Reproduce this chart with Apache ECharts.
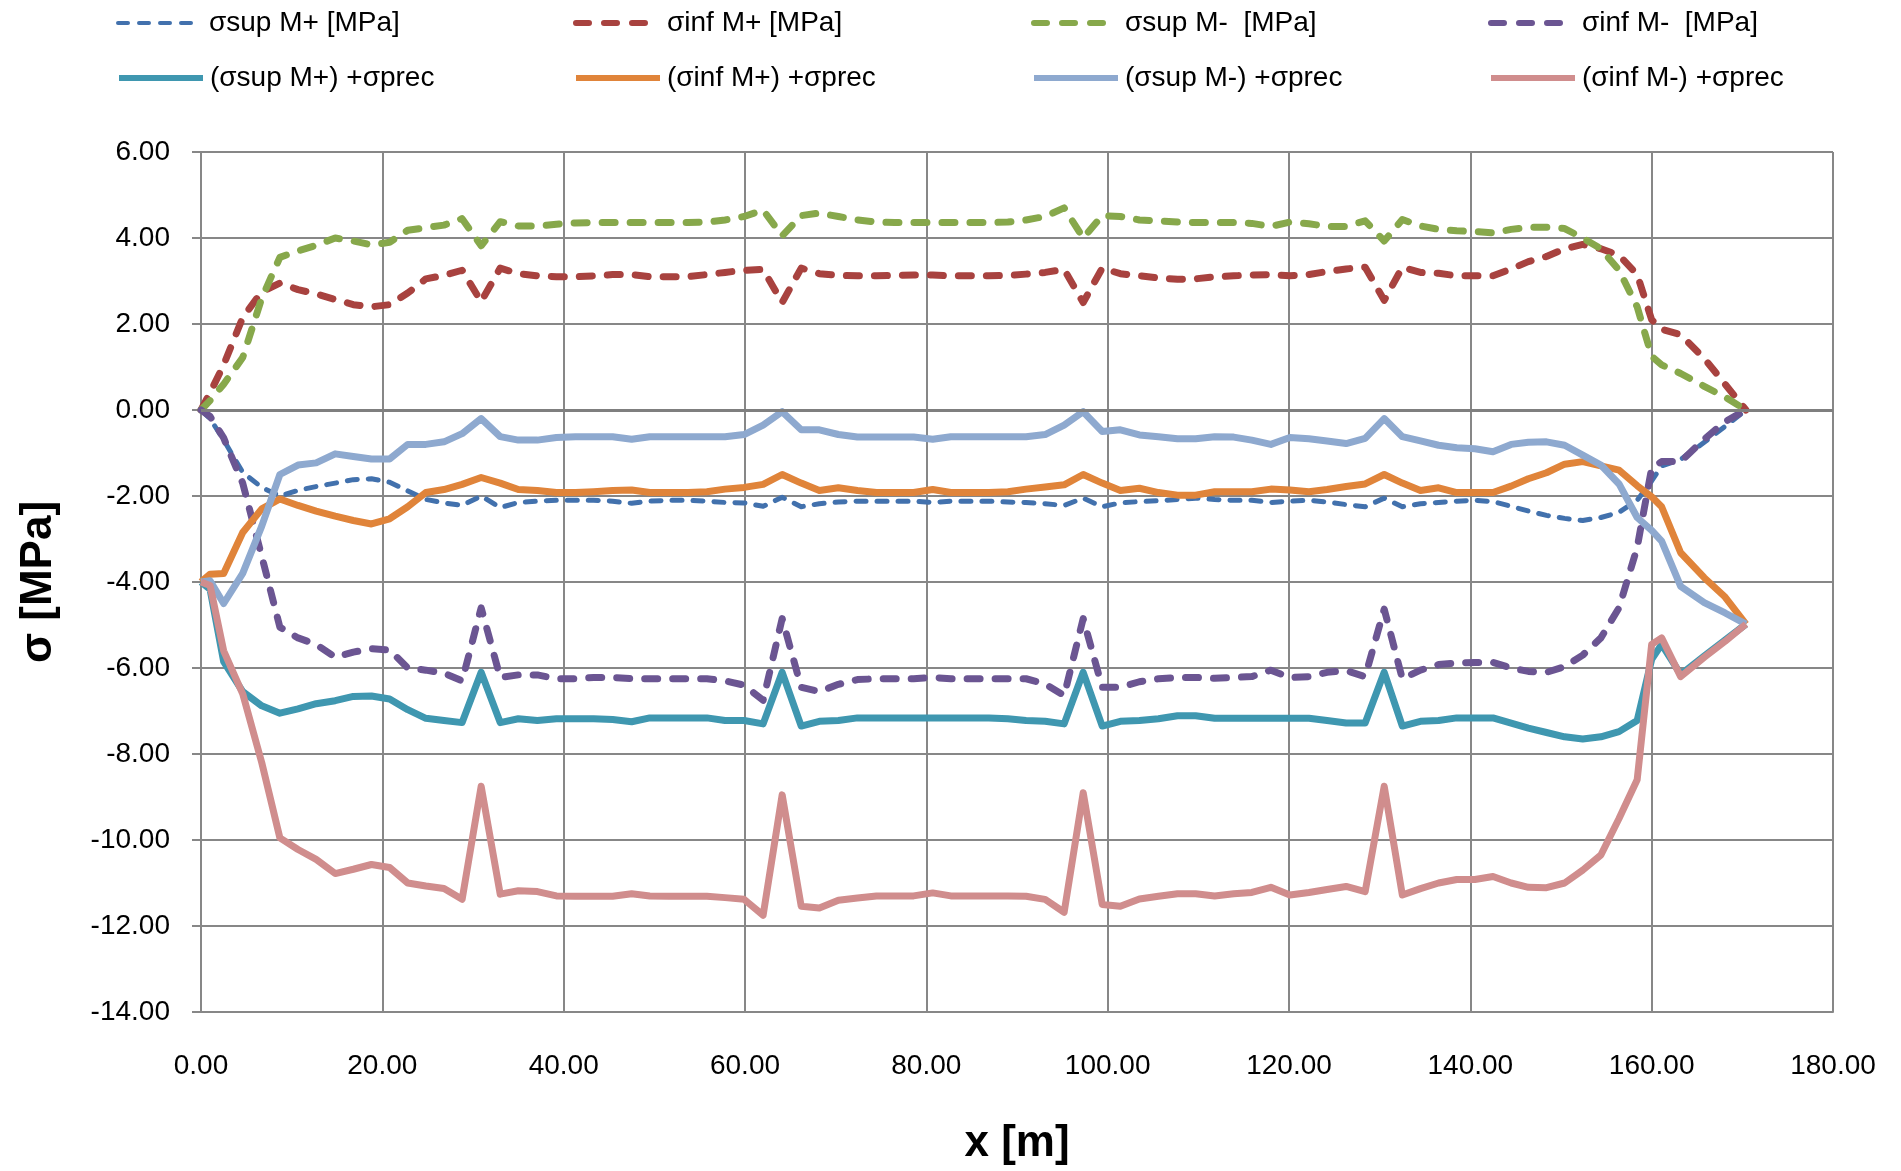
<!DOCTYPE html>
<html>
<head>
<meta charset="utf-8">
<title>Stress diagram</title>
<script src="https://cdn.jsdelivr.net/npm/echarts@6/dist/echarts.min.js"></script>
<style>
  html, body { margin: 0; padding: 0; background: #fff; }
  #chart { width: 1901px; height: 1171px; }
</style>
</head>
<body>
<div id="chart"></div>
<script>
// stations along the deck [m]
const xPos = [
  0, 1.0, 2.5, 4.6, 6.7, 8.7, 10.7, 12.7, 14.8, 16.8, 18.8, 20.8, 22.8, 24.8, 26.8, 28.8, 30.9,
  33.0, 35.0, 37.1, 39.2, 41.3, 43.3, 45.4, 47.5, 49.5, 51.6, 53.7, 55.8, 57.8, 59.9, 62.0, 64.1,
  66.2, 68.2, 70.3, 72.4, 74.5, 76.5, 78.6, 80.7, 82.7, 84.8, 86.9, 89.0, 91.0, 93.1, 95.2, 97.3,
  99.4, 101.4, 103.5, 105.6, 107.7, 109.7, 111.8, 113.9, 115.9, 118.0, 120.1, 122.2, 124.2, 126.3, 128.4, 130.5,
  132.5, 134.5, 136.5, 138.5, 140.5, 142.5, 144.5, 146.4, 148.4, 150.4, 152.4, 154.4, 156.4, 158.4, 160.0, 161.1, 163.2, 165.8, 168.1, 170.4
];

const supMplus = [
  0, -0.2, -0.7, -1.45, -1.8, -2.0, -1.87, -1.78, -1.7, -1.62, -1.6, -1.68, -1.88, -2.08, -2.16, -2.22, -2.0,
  -2.27, -2.15, -2.12, -2.1, -2.1, -2.1, -2.12, -2.17, -2.12, -2.1, -2.1, -2.12, -2.15, -2.16, -2.24, -2.03,
  -2.25, -2.18, -2.14, -2.12, -2.12, -2.12, -2.12, -2.15, -2.12, -2.12, -2.12, -2.14, -2.15, -2.18, -2.22, -2.05,
  -2.25, -2.16, -2.13, -2.11, -2.08, -2.05, -2.08, -2.1, -2.1, -2.15, -2.12, -2.1, -2.14, -2.2, -2.25, -2.05,
  -2.25, -2.18, -2.15, -2.12, -2.1, -2.13, -2.24, -2.35, -2.45, -2.52, -2.57, -2.5, -2.38, -2.1, -1.65, -1.3, -1.15, -0.75, -0.38, 0
];
const infMplus = [
  0, 0.4, 1.05, 2.15, 2.75, 2.95, 2.8, 2.7, 2.57, 2.45, 2.4, 2.45, 2.72, 3.05, 3.13, 3.25, 2.52,
  3.3, 3.17, 3.12, 3.1, 3.1, 3.12, 3.15, 3.15, 3.1, 3.1, 3.1, 3.15, 3.2, 3.25, 3.27, 2.5,
  3.3, 3.17, 3.13, 3.12, 3.12, 3.13, 3.14, 3.14, 3.12, 3.12, 3.12, 3.13, 3.16, 3.2, 3.27, 2.5,
  3.3, 3.17, 3.12, 3.07, 3.04, 3.05, 3.1, 3.12, 3.14, 3.15, 3.12, 3.15, 3.22, 3.28, 3.32, 2.55,
  3.32, 3.2, 3.18, 3.12, 3.12, 3.12, 3.28, 3.45, 3.57, 3.75, 3.85, 3.75, 3.6, 3.15, 2.1, 1.88, 1.75, 1.2, 0.6, 0
];
const supMminus = [
  0, 0.22, 0.6, 1.22, 2.6, 3.55, 3.7, 3.83, 4.0, 3.93, 3.84, 3.9, 4.18, 4.24, 4.3, 4.45, 3.82,
  4.38, 4.28, 4.28, 4.32, 4.35, 4.36, 4.36, 4.36, 4.36, 4.36, 4.36, 4.37, 4.42, 4.5, 4.65, 4.05,
  4.52, 4.58, 4.5, 4.42, 4.37, 4.36, 4.36, 4.36, 4.36, 4.36, 4.36, 4.37, 4.42, 4.5, 4.7, 4.0,
  4.52, 4.5, 4.42, 4.4, 4.37, 4.36, 4.36, 4.36, 4.34, 4.27, 4.37, 4.33, 4.27, 4.27, 4.4, 3.93,
  4.43, 4.28, 4.2, 4.17, 4.15, 4.12, 4.2, 4.25, 4.25, 4.22, 4.0, 3.75, 3.25, 2.4, 1.25, 1.05, 0.85, 0.55, 0.3, 0
];
const infMminus = [
  0, -0.15, -0.65, -1.7, -3.4, -5.05, -5.3, -5.45, -5.75, -5.63, -5.55, -5.58, -6.0, -6.05, -6.12, -6.3, -4.6,
  -6.22, -6.16, -6.16, -6.25, -6.25, -6.22, -6.22, -6.25, -6.25, -6.25, -6.25, -6.25, -6.3, -6.4, -6.75, -4.85,
  -6.45, -6.55, -6.38, -6.27, -6.25, -6.25, -6.25, -6.22, -6.25, -6.25, -6.25, -6.25, -6.25, -6.37, -6.64, -4.85,
  -6.45, -6.45, -6.32, -6.25, -6.22, -6.22, -6.24, -6.22, -6.2, -6.05, -6.22, -6.2, -6.1, -6.06, -6.2, -4.63,
  -6.25, -6.05, -5.92, -5.88, -5.87, -5.87, -6.0, -6.08, -6.1, -5.97, -5.7, -5.3, -4.6, -3.2, -1.35, -1.2, -1.2, -0.68, -0.27, 0
];
const supMplusPrec = [
  -4.0, -4.17, -5.85, -6.55, -6.88, -7.05, -6.95, -6.83, -6.76, -6.66, -6.65, -6.72, -6.97, -7.17, -7.22, -7.27, -6.1,
  -7.27, -7.18, -7.22, -7.18, -7.18, -7.18, -7.2, -7.25, -7.16, -7.16, -7.16, -7.16, -7.22, -7.22, -7.3, -6.1,
  -7.35, -7.24, -7.22, -7.16, -7.16, -7.16, -7.16, -7.16, -7.16, -7.16, -7.16, -7.18, -7.22, -7.24, -7.3, -6.1,
  -7.35, -7.24, -7.22, -7.18, -7.11, -7.11, -7.17, -7.17, -7.17, -7.17, -7.17, -7.17, -7.22, -7.28, -7.28, -6.1,
  -7.35, -7.24, -7.22, -7.16, -7.16, -7.16, -7.28, -7.4, -7.5, -7.6, -7.65, -7.6, -7.48, -7.22, -5.8, -5.45, -6.15, -5.72, -5.35, -4.98
];
const infMplusPrec = [
  -4.0, -3.82, -3.8, -2.85, -2.3, -2.07, -2.22, -2.35, -2.47, -2.57, -2.65, -2.53, -2.25, -1.92, -1.85, -1.73, -1.57,
  -1.7, -1.85, -1.87, -1.92, -1.92, -1.9, -1.87, -1.86, -1.92, -1.92, -1.92, -1.9, -1.84, -1.8, -1.73, -1.5,
  -1.7, -1.87, -1.81, -1.87, -1.92, -1.92, -1.92, -1.85, -1.92, -1.92, -1.92, -1.9, -1.84, -1.79, -1.74, -1.5,
  -1.7, -1.87, -1.82, -1.92, -1.98, -1.98, -1.9, -1.9, -1.9, -1.84, -1.86, -1.9, -1.85, -1.78, -1.72, -1.5,
  -1.7, -1.87, -1.81, -1.92, -1.92, -1.92, -1.77, -1.6, -1.46, -1.26, -1.2, -1.3, -1.4, -1.76, -2.02, -2.25, -3.32, -3.9, -4.35, -4.98
];
const supMminusPrec = [
  -4.0, -3.97, -4.5, -3.8, -2.7, -1.5, -1.28, -1.23, -1.02, -1.08, -1.14, -1.14, -0.8, -0.8, -0.74, -0.55, -0.2,
  -0.62, -0.7, -0.7, -0.64, -0.62, -0.62, -0.62, -0.68, -0.62, -0.62, -0.62, -0.62, -0.62, -0.57, -0.35, -0.04,
  -0.46, -0.46, -0.57, -0.63, -0.63, -0.63, -0.63, -0.68, -0.62, -0.62, -0.62, -0.62, -0.62, -0.57, -0.35, -0.04,
  -0.5, -0.46, -0.58, -0.62, -0.67, -0.67, -0.62, -0.63, -0.7, -0.8, -0.64, -0.67, -0.72, -0.78, -0.66, -0.2,
  -0.62, -0.72, -0.82, -0.88, -0.9, -0.97, -0.8, -0.75, -0.74, -0.82, -1.05, -1.28, -1.72, -2.5, -2.8, -3.05, -4.1, -4.48, -4.72, -4.98
];
const infMminusPrec = [
  -4.0, -4.08, -5.6, -6.6, -8.2, -9.95, -10.22, -10.45, -10.78, -10.68, -10.57, -10.64, -11.0, -11.07, -11.13, -11.38, -8.75,
  -11.26, -11.18, -11.2, -11.3, -11.31, -11.31, -11.31, -11.25, -11.3, -11.31, -11.31, -11.31, -11.34, -11.38, -11.75, -8.95,
  -11.54, -11.58, -11.4, -11.35, -11.3, -11.3, -11.3, -11.23, -11.3, -11.3, -11.3, -11.3, -11.31, -11.38, -11.68, -8.9,
  -11.5, -11.54, -11.37, -11.31, -11.25, -11.25, -11.3, -11.25, -11.22, -11.1, -11.28, -11.22, -11.15, -11.08, -11.2, -8.75,
  -11.28, -11.13, -11.0, -10.92, -10.92, -10.85, -11.0, -11.1, -11.11, -11.0, -10.7, -10.35, -9.5, -8.6, -5.45, -5.3, -6.2, -5.75, -5.38, -4.98
];

const seriesNames = [
  'σsup M+ [MPa]', 'σinf M+ [MPa]', 'σsup M-  [MPa]', 'σinf M-  [MPa]',
  '(σsup M+) +σprec', '(σinf M+) +σprec', '(σsup M-) +σprec', '(σinf M-) +σprec'
];
const seriesValues = [supMplus, infMplus, supMminus, infMminus, supMplusPrec, infMplusPrec, supMminusPrec, infMminusPrec];
const colors = ['#4271ad', '#a8423f', '#87a84b', '#6b5592', '#3f97b0', '#e0843a', '#8ea9cf', '#d08d8d'];
const widths = [5, 7, 7, 7, 7, 7, 7, 7];
const dashes = [[10, 11], [13, 15], [13, 15], [13, 15], 'solid', 'solid', 'solid', 'solid'];

const FONT = "'Liberation Sans', Arial, sans-serif";
const GRID_COLOR = '#878787';

const chart = echarts.init(document.getElementById('chart'), null, { renderer: 'canvas' });

const series = seriesNames.map((name, i) => ({
  name: name,
  type: 'line',
  data: xPos.map((x, k) => [x, seriesValues[i][k]]),
  symbol: 'none',
  smooth: false,
  itemStyle: { color: colors[i] },
  lineStyle: {
    color: colors[i],
    width: widths[i],
    type: dashes[i],
    cap: dashes[i] === 'solid' ? 'butt' : 'round',
    join: 'round'
  },
  emphasis: { disabled: true }
}));

// the horizontal axis crosses at 0 in the original, drawn as a heavier line
series.unshift({
  name: 'zero',
  type: 'line',
  data: [],
  z: 1,
  markLine: {
    silent: true,
    symbol: 'none',
    label: { show: false },
    lineStyle: { color: '#7f7f7f', width: 3, type: 'solid' },
    data: [{ yAxis: 0 }]
  }
});

const legendCols = [116, 573, 1031, 1488];
const legendRows = [9, 64];
const legends = seriesNames.map((name, i) => ({
  data: [name],
  left: legendCols[i % 4],
  top: legendRows[Math.floor(i / 4)],
  itemWidth: 84,
  itemHeight: 30,
  itemGap: 0,
  padding: 0,
  selectedMode: false,
  itemStyle: { opacity: 0 },
  lineStyle: { width: widths[i] - 1 },
  textStyle: { fontFamily: FONT, fontSize: 28, color: '#000', padding: [0, 0, 0, 2] }
}));

chart.setOption({
  animation: false,
  backgroundColor: '#ffffff',
  legend: legends,
  grid: { left: 201, right: 68, top: 152, bottom: 154, containLabel: false },
  xAxis: {
    type: 'value',
    min: 0,
    max: 180,
    interval: 20,
    name: 'x [m]',
    nameLocation: 'middle',
    nameGap: 110,
    nameTextStyle: { fontFamily: FONT, fontSize: 44, fontWeight: 'bold', color: '#000' },
    axisLine: { show: true, onZero: false, lineStyle: { color: GRID_COLOR, width: 2 } },
    axisTick: { show: false },
    axisLabel: { fontFamily: FONT, fontSize: 28, color: '#000', margin: 40, formatter: v => v.toFixed(2) },
    splitLine: { show: true, lineStyle: { color: GRID_COLOR, width: 2 } }
  },
  yAxis: {
    type: 'value',
    min: -14,
    max: 6,
    interval: 2,
    name: 'σ [MPa]',
    nameLocation: 'middle',
    nameGap: 140,
    nameRotate: 90,
    nameTextStyle: { fontFamily: FONT, fontSize: 44, fontWeight: 'bold', color: '#000' },
    axisLine: { show: true, lineStyle: { color: GRID_COLOR, width: 2 } },
    axisTick: { show: true, length: 9, lineStyle: { color: GRID_COLOR, width: 2 } },
    axisLabel: { fontFamily: FONT, fontSize: 28, color: '#000', margin: 31, formatter: v => v.toFixed(2) },
    splitLine: { show: true, lineStyle: { color: GRID_COLOR, width: 2 } }
  },
  series: series
});

window.addEventListener('resize', () => chart.resize());
</script>
</body>
</html>
